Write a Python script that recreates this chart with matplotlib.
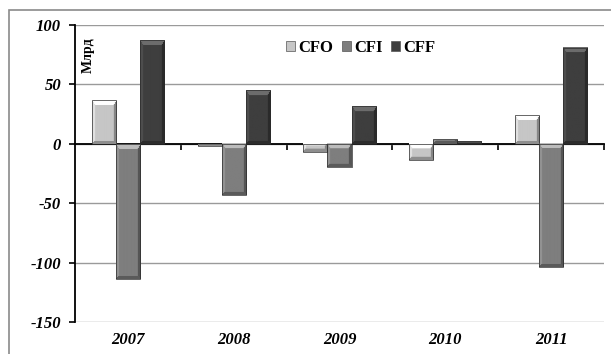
import numpy as np
import matplotlib.pyplot as plt
from matplotlib.patches import Patch, Rectangle
from matplotlib.colors import to_rgb
from matplotlib.transforms import blended_transform_factory

plt.rcParams["axes.unicode_minus"] = False

years = ["2007", "2008", "2009", "2010", "2011"]
cfo = [37, -1.5, -7, -13.5, 24]
cfi = [-113.5, -43, -19.5, 4, -104]
cff = [87.5, 45, 31.5, 2, 81]
series_names = ["CFO", "CFI", "CFF"]
series_colors = ["#c6c6c6", "#7e7e7e", "#3e3e3e"]
yticks = [-150, -100, -50, 0, 50, 100]

serif = "Liberation Serif"

fig = plt.figure(figsize=(6.11, 3.54), dpi=100)
ax = fig.add_axes([75 / 611, 1 - 322 / 354, 529 / 611, 297 / 354])

# frame around the chart area (only top/left fall inside the image)
fig.patches.append(Rectangle((9 / 611, -0.1), 1.2, 1 - 10 / 354 + 0.1,
                             transform=fig.transFigure, fill=False,
                             edgecolor="#8a8a8a", linewidth=1.2))

ax.set_xlim(-0.5, 4.5)
ax.set_ylim(-150, 100)
ax.set_yticks(yticks)
ax.yaxis.grid(True, color="#9a9a9a", linewidth=1.0)
ax.set_axisbelow(True)

for s in ["top", "right"]:
    ax.spines[s].set_visible(False)
ax.spines["left"].set_linewidth(1.3)
ax.spines["bottom"].set_position(("data", 0))
ax.spines["bottom"].set_linewidth(1.3)

ax.set_xticks(np.arange(0.5, 5, 1))
ax.set_xticklabels([])
ax.tick_params(axis="x", direction="out", length=4, width=1.2)
ax.tick_params(axis="y", direction="out", length=4, width=1.2, pad=6)

# year labels sit under the bottom of the plot, not on the zero axis
trans = blended_transform_factory(ax.transData, ax.transAxes)
for i, y in enumerate(years):
    ax.text(i, -0.035, y, transform=trans, ha="center", va="top",
            fontfamily=serif, fontweight="bold", fontstyle="italic", fontsize=12)

x = np.arange(len(years))
w = 0.228
bars = []
for k, (vals, col) in enumerate(zip([cfo, cfi, cff], series_colors)):
    b = ax.bar(x + (k - 1) * w, vals, width=w, color=col,
               edgecolor="none", zorder=3)
    bars.append((b, col))


def bevel_image(wpx, hpx, color, side=3, top=5):
    base = np.array(to_rgb(color))
    yy, xx = np.mgrid[0:hpx, 0:wpx].astype(float)
    d_top = yy / top
    d_bot = (hpx - 1 - yy) / side
    d_left = xx / side
    d_right = (wpx - 1 - xx) / side
    stack = np.stack([d_top, d_bot, d_left, d_right])
    dmin = stack.min(axis=0)
    which = stack.argmin(axis=0)
    face = dmin >= 1
    fac = np.ones((hpx, wpx))
    add = np.zeros((hpx, wpx))
    fac[(which == 0) & ~face] = 1.25
    add[(which == 0) & ~face] = 0.12
    fac[(which == 1) & ~face] = 0.72
    fac[(which == 2) & ~face] = 1.08
    add[(which == 2) & ~face] = 0.04
    fac[(which == 3) & ~face] = 0.68
    img = np.clip(base[None, None, :] * fac[..., None] + add[..., None], 0, 1)
    return img


for b, col in bars:
    for r in b:
        x0, y0 = r.get_x(), r.get_y()
        x1, y1 = x0 + r.get_width(), y0 + r.get_height()
        ylo, yhi = min(y0, y1), max(y0, y1)
        p0 = ax.transData.transform((x0, ylo))
        p1 = ax.transData.transform((x1, yhi))
        wpx = max(int(round(p1[0] - p0[0])), 2)
        hpx = max(int(round(p1[1] - p0[1])), 2)
        img = bevel_image(wpx, hpx, col, side=min(3, wpx // 3),
                          top=max(min(5, hpx // 3), 1))
        ax.imshow(img, extent=(x0, x1, ylo, yhi), aspect="auto",
                  interpolation="bilinear", zorder=4, origin="upper")
        ax.add_patch(Rectangle((x0, ylo), x1 - x0, yhi - ylo, fill=False,
                               edgecolor="#2a2a2a", linewidth=0.5, zorder=5))

ax.set_xlim(-0.5, 4.5)
ax.set_ylim(-150, 100)

handles = [Patch(facecolor=c, edgecolor="#555555", linewidth=0.5) for c in series_colors]
leg = ax.legend(handles, series_names, loc="upper center", bbox_to_anchor=(0.54, 1.0),
                ncol=3, frameon=False, handlelength=0.55, handleheight=0.55,
                handletextpad=0.2, columnspacing=0.5,
                prop={"family": serif, "weight": "bold", "size": 12})

ax.text(0.025, 0.90, "Млрд", transform=ax.transAxes, rotation=90,
        ha="center", va="center", fontfamily=serif, fontweight="bold", fontsize=10)

ax.set_yticks(yticks)
ax.set_yticklabels([str(v) for v in yticks], fontfamily=serif, fontweight="bold",
                   fontstyle="italic", fontsize=12)

fig.savefig("out.png", dpi=100)
